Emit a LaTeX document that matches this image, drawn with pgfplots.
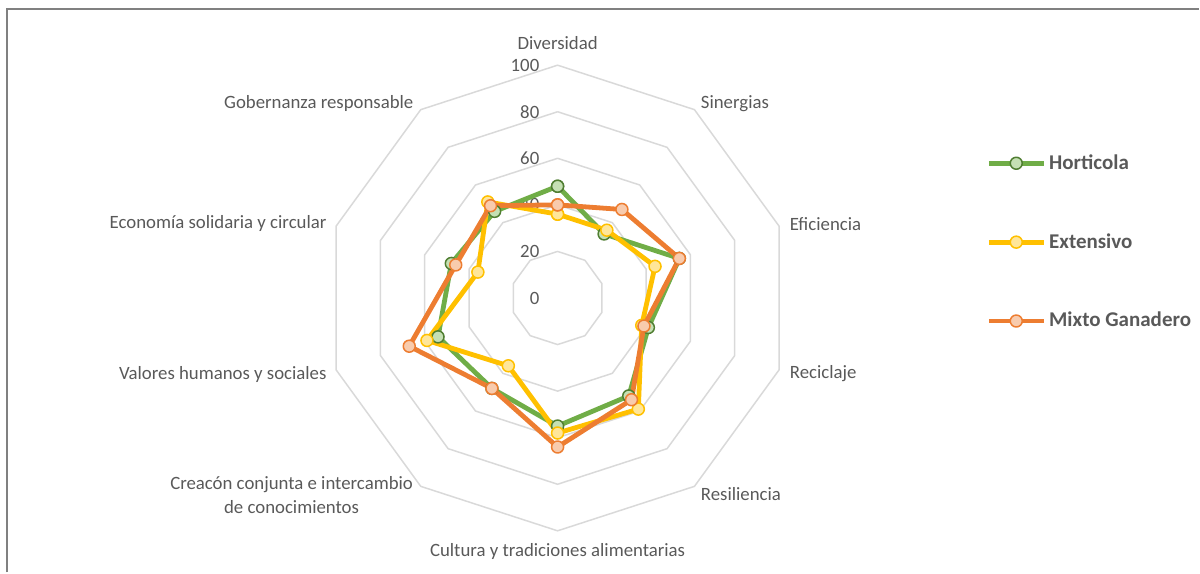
\documentclass[border=0pt]{standalone}
\usepackage{fontspec}
\setmainfont{Carlito}
\usepackage{pgfplots}
\pgfplotsset{compat=1.18}
\definecolor{gridc}{HTML}{D9D9D9}
\definecolor{txt}{HTML}{595959}
\definecolor{gline}{HTML}{70AD47}
\definecolor{gedge}{HTML}{507E32}
\definecolor{gfill}{HTML}{C5E0B4}
\definecolor{yline}{HTML}{FFC000}
\definecolor{yfill}{HTML}{FFE699}
\definecolor{oline}{HTML}{ED7D31}
\definecolor{ofill}{HTML}{F8CBAD}
\definecolor{framec}{HTML}{808080}
\tikzset{lab/.style={font=\fontsize{9.4}{12}\selectfont, text=txt, inner sep=0pt}}
\begin{document}
\begin{tikzpicture}
\begin{axis}[
  x=1.165pt, y=1.165pt,
  xmin=-239.5, xmax=275.5, ymin=-117.9, ymax=128.0,
  hide axis, clip=false,
  legend style={at={(axis cs:184,24.0)}, anchor=west, draw=none, fill=none, inner sep=0pt, row sep=27.6pt,
    font=\fontsize{10.5}{12}\selectfont\bfseries, text=txt, nodes={inner sep=1.5pt}},
  legend cell align=left,
  legend image code/.code={\draw[mark repeat=2, mark phase=2, #1] plot coordinates {(0pt,0pt) (13.75pt,0pt) (27.5pt,0pt)};},
]
\path (axis cs:-239.5,-117.9) rectangle (axis cs:275.5,128.0);
% grid decagons
\pgfplotsinvokeforeach{20,40,60,80,100}{
  \addplot[gridc, line width=0.75pt, data cs=polar, forget plot, mark=none]
    coordinates {(90,#1) (54,#1) (18,#1) (-18,#1) (-54,#1) (-90,#1) (-126,#1) (-162,#1) (162,#1) (126,#1) (90,#1)};
}
% value labels
\node[lab, anchor=east] at (axis cs:-7.7,100) {100};
\node[lab, anchor=east] at (axis cs:-7.7,80) {80};
\node[lab, anchor=east] at (axis cs:-7.7,60) {60};
\node[lab, anchor=east] at (axis cs:-7.7,40) {40};
\node[lab, anchor=east] at (axis cs:-7.7,20) {20};
\node[lab, anchor=east] at (axis cs:-7.7,0) {0};
% series
\addplot[gline, line width=2.4pt, line join=round, mark=*, mark size=3pt,
  mark options={fill=gfill, draw=gedge, line width=0.75pt}, data cs=polar]
  coordinates {(90,48) (54,34) (18,55) (-18,41) (-54,52) (-90,55) (-126,48) (-162,54) (162,48) (126,46) (90,48)};
\addplot[yline, line width=2.4pt, line join=round, mark=*, mark size=3pt,
  mark options={fill=yfill, draw=yline, line width=0.75pt}, data cs=polar]
  coordinates {(90,36) (54,36) (18,44) (-18,38) (-54,59) (-90,58) (-126,36) (-162,59) (162,36) (126,51) (90,36)};
\addplot[oline, line width=2.4pt, line join=round, mark=*, mark size=3pt,
  mark options={fill=ofill, draw=oline, line width=0.75pt}, data cs=polar]
  coordinates {(90,40) (54,47) (18,55) (-18,39) (-54,54) (-90,64) (-126,48) (-162,67) (162,46) (126,49) (90,40)};
\legend{Horticola, Extensivo, Mixto Ganadero}
% category labels
\node[lab, anchor=center] at (axis cs:0,109.3) {Diversidad};
\node[lab, anchor=west] at (axis cs:61.4,83.5) {Sinergias};
\node[lab, anchor=west] at (axis cs:99.6,31.6) {Eficiencia};
\node[lab, anchor=west] at (axis cs:99.6,-32.4) {Reciclaje};
\node[lab, anchor=west] at (axis cs:61.4,-84.3) {Resiliencia};
\node[lab, anchor=center] at (axis cs:0,-109.0) {Cultura y tradiciones alimentarias};
\node[lab, anchor=east, align=center] at (axis cs:-62.0,-84.5) {Creacón conjunta e intercambio\\de conocimientos};
\node[lab, anchor=east] at (axis cs:-99.1,-32.8) {Valores humanos y sociales};
\node[lab, anchor=east] at (axis cs:-99.1,32.0) {Economía solidaria y circular};
\node[lab, anchor=east] at (axis cs:-61.8,83.5) {Gobernanza responsable};
% chart frame
\draw[framec, line width=1pt] (axis cs:-236.3,-117.9) -- (axis cs:-236.3,124.0) -- (axis cs:275.5,124.0);
\end{axis}
\end{tikzpicture}
\end{document}
